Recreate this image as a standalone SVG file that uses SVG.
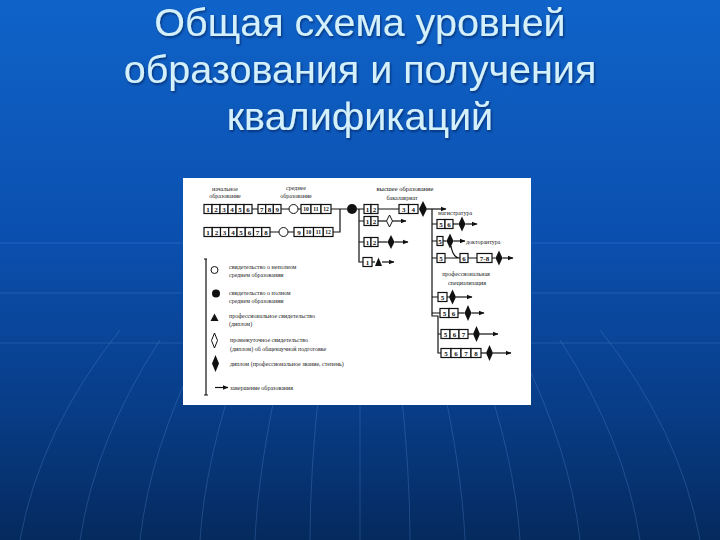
<svg xmlns="http://www.w3.org/2000/svg" width="720" height="540" viewBox="0 0 720 540">
<defs>
<linearGradient id="bg" x1="0" y1="0" x2="0" y2="1">
<stop offset="0" stop-color="#0f63c9"/>
<stop offset="0.45" stop-color="#0b4fae"/>
<stop offset="0.75" stop-color="#083d88"/>
<stop offset="1" stop-color="#052a5e"/>
</linearGradient>
<filter id="sh" x="-5%" y="-20%" width="110%" height="140%">
<feDropShadow dx="1" dy="1.5" stdDeviation="1" flood-color="#02183a" flood-opacity="0.6"/>
</filter>
<marker id="ah" viewBox="0 0 6 6" refX="5.5" refY="3" markerWidth="6" markerHeight="6" markerUnits="userSpaceOnUse" orient="auto">
<path d="M0,0.6 L6,3 L0,5.4 Z" fill="#111"/>
</marker>
<style>
.t{font-family:"Liberation Sans",Arial,sans-serif;font-size:39.5px;fill:#d4f0fb;text-anchor:middle}
.b{fill:#fff;stroke:#111;stroke-width:1.2}
.d{font-family:"Liberation Serif","DejaVu Serif",serif;font-size:7px;font-weight:bold;fill:#111;text-anchor:middle}
.ds{font-family:"Liberation Serif","DejaVu Serif",serif;font-size:5.6px;font-weight:bold;fill:#111;text-anchor:middle}
.l{fill:none;stroke:#111;stroke-width:1.2}
.a{fill:none;stroke:#111;stroke-width:1.2;marker-end:url(#ah)}
.s{font-family:"Liberation Serif","DejaVu Serif",serif;font-size:6px;fill:#222}
.h{font-family:"Liberation Serif","DejaVu Serif",serif;font-size:6.5px;fill:#111}
.fd{fill:#111}
.od{fill:#fff;stroke:#111;stroke-width:1}
.g{fill:none;stroke:#5b8fd6;stroke-width:1;opacity:0.3}
</style>
</defs>

<rect width="720" height="540" fill="url(#bg)"/>
<g id="bg-lines">
<path class="g" d="M0,243 H720 M0,293 H720 M0,343 H720"/>
<path class="g" d="M20,540 Q40,430 120,330 M80,540 Q95,440 160,340 M140,540 Q150,450 200,350 M200,540 Q205,460 240,360 M255,540 Q258,470 280,370 M310,540 Q310,470 320,380 M360,540 V380 M410,540 Q410,470 400,380 M465,540 Q462,470 440,370 M520,540 Q515,460 480,360 M580,540 Q570,450 520,350 M640,540 Q625,440 560,340 M700,540 Q680,430 600,330"/>
</g>

<g id="title" filter="url(#sh)">
<text class="t" x="360" y="36">Общая схема уровней</text>
<text class="t" x="360" y="83">образования и получения</text>
<text class="t" x="360" y="130">квалификаций</text>
</g>

<rect id="panel" x="183" y="178" width="348" height="227" fill="#fff"/>

<g id="headers">
<text class="s" x="225" y="191" text-anchor="middle">начальное</text>
<text class="s" x="225" y="198" text-anchor="middle">образование</text>
<text class="s" x="296" y="190" text-anchor="middle">среднее</text>
<text class="s" x="296" y="198" text-anchor="middle">образование</text>
<text class="h" x="405" y="191" text-anchor="middle">высшее образование</text>
<text class="s" x="402" y="200" text-anchor="middle">бакалавриат</text>
<text class="s" x="455" y="215" text-anchor="middle">магистратура</text>
<text class="s" x="466" y="244">докторантура</text>
<text class="s" x="466" y="276" text-anchor="middle">профессиональная</text>
<text class="s" x="467" y="285" text-anchor="middle">специализация</text>
</g>

<g id="connectors">
<path class="l" d="M252,209 H258 M281,209 H289 M298,209 H301 M331,209 H347 M357,209 H364 M378,209 H399"/>
<path class="a" d="M427,209 H446"/>
<path class="l" d="M270,232 H279 M288,232 H294 M333,232 H340 V209"/>
<path class="l" d="M359,209 V262 H363 M359,221 H364 M359,242 H364"/>
<path class="l" d="M378,221 H386.5"/>
<path class="a" d="M392.5,221 H406"/>
<path class="l" d="M378,242 H387.5"/>
<path class="a" d="M394.5,242 H408"/>
<path class="l" d="M372,262 H375"/>
<path class="a" d="M382,262 H394"/>
<path class="l" d="M432,209 V316 H438 V353 H441 M432,224 H437 M432,241 H437 M432,258 H437 M432,297 H438 M432,313 H440 M438,334 H441"/>
<path class="l" d="M453,224 H458.5"/>
<path class="a" d="M465.5,224 H477"/>
<path class="l" d="M443,241 H446.5"/>
<path class="a" d="M453.5,241 H465"/>
<path class="l" d="M451,246 Q453,258 460,258 M445,258 H460 M468,258 H477 M492,258 H495.5"/>
<path class="a" d="M502.5,258 H513"/>
<path class="l" d="M447,297 H449"/>
<path class="a" d="M456,297 H472"/>
<path class="l" d="M458,313 H464.5"/>
<path class="a" d="M471.5,313 H484"/>
<path class="l" d="M468,334 H473"/>
<path class="a" d="M480,334 H498"/>
<path class="l" d="M481,353 H486"/>
<path class="a" d="M493,353 H511"/>
</g>

<g id="primary-1">
<rect class="b" x="204" y="204.5" width="8" height="9"/><text class="d" x="208" y="211.6">1</text>
<rect class="b" x="212" y="204.5" width="8" height="9"/><text class="d" x="216" y="211.6">2</text>
<rect class="b" x="220" y="204.5" width="8" height="9"/><text class="d" x="224" y="211.6">3</text>
<rect class="b" x="228" y="204.5" width="8" height="9"/><text class="d" x="232" y="211.6">4</text>
<rect class="b" x="236" y="204.5" width="8" height="9"/><text class="d" x="240" y="211.6">5</text>
<rect class="b" x="244" y="204.5" width="8" height="9"/><text class="d" x="248" y="211.6">6</text>
</g>
<g id="secondary-1a">
<rect class="b" x="258" y="204.5" width="7.7" height="9"/><text class="d" x="261.8" y="211.6">7</text>
<rect class="b" x="265.7" y="204.5" width="7.7" height="9"/><text class="d" x="269.5" y="211.6">8</text>
<rect class="b" x="273.3" y="204.5" width="7.7" height="9"/><text class="d" x="277.2" y="211.6">9</text>
</g>
<circle id="cert-1" class="od" cx="293.5" cy="209" r="4.5"/>
<g id="secondary-1b">
<rect class="b" x="301" y="204.5" width="10" height="9"/><text class="ds" x="306" y="211.2">10</text>
<rect class="b" x="311" y="204.5" width="10" height="9"/><text class="ds" x="316" y="211.2">11</text>
<rect class="b" x="321" y="204.5" width="10" height="9"/><text class="ds" x="326" y="211.2">12</text>
</g>
<circle id="cert-full" class="fd" cx="352" cy="209" r="5"/>

<g id="primary-2">
<rect class="b" x="204" y="227.5" width="8.25" height="9"/><text class="d" x="208.1" y="234.6">1</text>
<rect class="b" x="212.25" y="227.5" width="8.25" height="9"/><text class="d" x="216.4" y="234.6">2</text>
<rect class="b" x="220.5" y="227.5" width="8.25" height="9"/><text class="d" x="224.6" y="234.6">3</text>
<rect class="b" x="228.75" y="227.5" width="8.25" height="9"/><text class="d" x="232.9" y="234.6">4</text>
<rect class="b" x="237" y="227.5" width="8.25" height="9"/><text class="d" x="241.1" y="234.6">5</text>
<rect class="b" x="245.25" y="227.5" width="8.25" height="9"/><text class="d" x="249.4" y="234.6">6</text>
<rect class="b" x="253.5" y="227.5" width="8.25" height="9"/><text class="d" x="257.6" y="234.6">7</text>
<rect class="b" x="261.75" y="227.5" width="8.25" height="9"/><text class="d" x="265.9" y="234.6">8</text>
</g>
<circle id="cert-2" class="od" cx="283.5" cy="232" r="4.5"/>
<g id="secondary-2">
<rect class="b" x="294" y="227.5" width="9.75" height="9"/><text class="d" x="298.9" y="234.6">9</text>
<rect class="b" x="303.75" y="227.5" width="9.75" height="9"/><text class="ds" x="308.6" y="234.2">10</text>
<rect class="b" x="313.5" y="227.5" width="9.75" height="9"/><text class="ds" x="318.4" y="234.2">11</text>
<rect class="b" x="323.25" y="227.5" width="9.75" height="9"/><text class="ds" x="328.1" y="234.2">12</text>
</g>

<g id="bachelor">
<rect class="b" x="364" y="204.5" width="7" height="9"/><text class="d" x="367.5" y="211.6">1</text>
<rect class="b" x="371" y="204.5" width="7" height="9"/><text class="d" x="374.5" y="211.6">2</text>
<rect class="b" x="399" y="204.5" width="9.5" height="9"/><text class="d" x="403.7" y="211.6">3</text>
<rect class="b" x="408.5" y="204.5" width="9.5" height="9"/><text class="d" x="413.2" y="211.6">4</text>
<polygon class="fd" points="423,201 427,209 423,217 419,209"/>
</g>
<g id="interim">
<rect class="b" x="364" y="216.5" width="7" height="9"/><text class="d" x="367.5" y="223.6">1</text>
<rect class="b" x="371" y="216.5" width="7" height="9"/><text class="d" x="374.5" y="223.6">2</text>
<polygon class="od" points="389.5,215 392.5,221 389.5,227 386.5,221"/>
</g>
<g id="short-cycle">
<rect class="b" x="364" y="237.5" width="7" height="9"/><text class="d" x="367.5" y="244.6">1</text>
<rect class="b" x="371" y="237.5" width="7" height="9"/><text class="d" x="374.5" y="244.6">2</text>
<polygon class="fd" points="391,235 394.5,242 391,249 387.5,242"/>
</g>
<g id="vocational">
<rect class="b" x="363" y="257.5" width="9" height="9"/><text class="d" x="367.5" y="264.6">1</text>
<polygon class="fd" points="378.5,257.5 382,266 375,266"/>
</g>

<g id="master">
<rect class="b" x="437" y="219.5" width="8" height="9"/><text class="d" x="441" y="226.6">5</text>
<rect class="b" x="445" y="219.5" width="8" height="9"/><text class="d" x="449" y="226.6">6</text>
<polygon class="fd" points="462,216.5 465.5,224 462,231.5 458.5,224"/>
</g>
<g id="doctoral">
<rect class="b" x="437" y="236.5" width="6" height="9"/><text class="d" x="440" y="243.6">5</text>
<polygon class="fd" points="450,233.5 453.5,241 450,248.5 446.5,241"/>
</g>
<g id="doctoral-2">
<rect class="b" x="437" y="253.5" width="8" height="9"/><text class="d" x="441" y="260.6">5</text>
<rect class="b" x="460" y="253.5" width="8" height="9"/><text class="d" x="464" y="260.6">6</text>
<rect class="b" x="477" y="253.5" width="15" height="9"/><text class="d" x="484.5" y="260.6">7-8</text>
<polygon class="fd" points="499,250.5 502.5,258 499,265.5 495.5,258"/>
</g>
<g id="spec-1">
<rect class="b" x="438" y="292.5" width="9" height="9"/><text class="d" x="442.5" y="299.6">5</text>
<polygon class="fd" points="452.5,289.5 456,297 452.5,304.5 449,297"/>
</g>
<g id="spec-2">
<rect class="b" x="440" y="308.5" width="9" height="9"/><text class="d" x="444.5" y="315.6">5</text>
<rect class="b" x="449" y="308.5" width="9" height="9"/><text class="d" x="453.5" y="315.6">6</text>
<polygon class="fd" points="468,305 471.5,313 468,321 464.5,313"/>
</g>
<g id="spec-3">
<rect class="b" x="441" y="329.5" width="9" height="9"/><text class="d" x="445.5" y="336.6">5</text>
<rect class="b" x="450" y="329.5" width="9" height="9"/><text class="d" x="454.5" y="336.6">6</text>
<rect class="b" x="459" y="329.5" width="9" height="9"/><text class="d" x="463.5" y="336.6">7</text>
<polygon class="fd" points="476.5,326 480,334 476.5,342 473,334"/>
</g>
<g id="spec-4">
<rect class="b" x="441" y="348.5" width="10" height="9"/><text class="d" x="446" y="355.6">5</text>
<rect class="b" x="451" y="348.5" width="10" height="9"/><text class="d" x="456" y="355.6">6</text>
<rect class="b" x="461" y="348.5" width="10" height="9"/><text class="d" x="466" y="355.6">7</text>
<rect class="b" x="471" y="348.5" width="10" height="9"/><text class="d" x="476" y="355.6">8</text>
<polygon class="fd" points="489.5,345 493,353 489.5,361 486,353"/>
</g>

<g id="legend">
<path class="l" d="M206,259 V395 M204,259 H207 M204,395 H208"/>
<circle class="od" cx="214.5" cy="270" r="3.5"/>
<text class="s" x="229" y="268.5">свидетельство о неполном</text>
<text class="s" x="229" y="277">среднем образовании</text>
<circle class="fd" cx="216" cy="293.5" r="4"/>
<text class="s" x="229" y="294.5">свидетельство о полном</text>
<text class="s" x="229" y="303">среднем образовании</text>
<polygon class="fd" points="214.5,313.5 218.5,321 210.5,321"/>
<text class="s" x="229" y="317.5">профессиональное свидетельство</text>
<text class="s" x="229" y="326">(диплом)</text>
<polygon class="od" points="214.5,333 217.5,340.5 214.5,348 211.5,340.5"/>
<text class="s" x="230" y="342">промежуточное свидетельство</text>
<text class="s" x="230" y="350.5">(диплом) об общенаучной подготовке</text>
<polygon class="fd" points="215.5,355 219,363.5 215.5,372 212,363.5"/>
<text class="s" x="230" y="366">диплом (профессиональное звание, степень)</text>
<path class="a" d="M215,387.5 H228"/>
<text class="s" x="230" y="389.5">завершение образования</text>
</g>
</svg>
